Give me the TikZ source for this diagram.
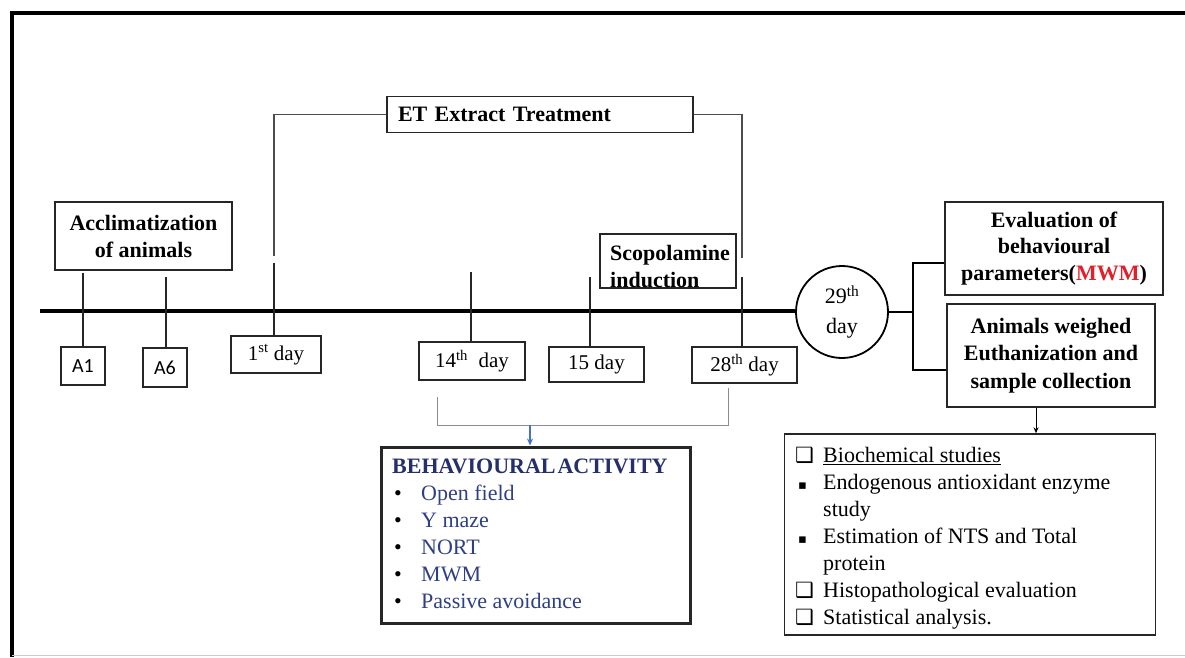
\documentclass[tikz,border=0pt]{standalone}
\usepackage{fontspec}
\usepackage{array}
\setmainfont{Liberation Serif}
\newfontfamily\calib{Carlito}
\newfontfamily\djv{DejaVu Sans}
\usetikzlibrary{arrows.meta}
\definecolor{navy}{HTML}{24306C}
\definecolor{itemblue}{HTML}{2F3F84}
\definecolor{mwmred}{HTML}{E0202A}
\definecolor{arrowblue}{HTML}{4472C4}
\tikzset{
  box/.style={draw=black!85, line width=1.6pt, inner sep=0pt, font=\fontsize{22}{27}\selectfont},
  daybox/.style={box, line width=1.8pt, font=\fontsize{21}{25}\selectfont},
  tick/.style={line width=2pt, black!85},
  bracket/.style={line width=1.3pt, black!70},
  thinbracket/.style={line width=0.9pt, black!45},
  lbl/.style={inner sep=0pt, font=\fontsize{22}{27}\selectfont}
}
\begin{document}
\begin{tikzpicture}[x=1pt,y=-1pt]
\useasboundingbox (0,0) rectangle (1185,657);
% frame
\draw[line width=4pt] (12,657) -- (12,13) -- (1185,13);
\draw[line width=1.2pt, black!20] (12,655.5) -- (1185,655.5);

% top boxes
\node[box, minimum width=177pt, minimum height=68pt, align=center, font=\bfseries\fontsize{22}{27}\selectfont] (accl) at (143.5,236) {Acclimatization\\of animals};
\node[box, minimum width=306pt, minimum height=36pt, text width=284pt, inner xsep=11pt, align=left, font=\bfseries\fontsize{22}{27}\selectfont] (et) at (540,114.5) {ET Extract Treatment};
\node[box, minimum width=136pt, minimum height=54pt] (scop) at (668,261) {};
\node[lbl, anchor=base west, align=left, font=\bfseries\fontsize{22}{27}\selectfont] (scoptxt) at (610,287) {Scopolamine\\induction};

% circle
\node[draw, circle, line width=1.8pt, minimum size=92pt, inner sep=0pt, align=center, font=\fontsize{22}{30}\selectfont] (c29) at (842,312) {29\textsuperscript{th}\\day};

% timeline
\coordinate (tl0) at (40,311);
\draw[line width=4.5pt] (tl0) -- (c29.west |- tl0);

% day boxes
\node[daybox, minimum width=44pt, minimum height=38pt, font=\calib\fontsize{20}{24}\selectfont] (a1) at (83,366) {A1};
\node[daybox, minimum width=44pt, minimum height=39pt, font=\calib\fontsize{20}{24}\selectfont] (a6) at (165,367.5) {A6};
\node[daybox, minimum width=90pt, minimum height=37pt] (d1) at (276,354.5) {1\textsuperscript{st} day};
\node[daybox, minimum width=106pt, minimum height=38pt] (d14) at (472,361) {14\textsuperscript{th}\ \ day};
\node[daybox, minimum width=95pt, minimum height=35pt] (d15) at (596.5,364.5) {15 day};
\node[daybox, minimum width=105pt, minimum height=36pt] (d28) at (744.5,365) {28\textsuperscript{th} day};

% ticks
\coordinate (ta1) at (83,273);
\coordinate (ta6) at (166,277);
\coordinate (td1) at (274,263);
\coordinate (td14) at (471,272);
\coordinate (td15) at (590,277);
\coordinate (td28) at (742,277);
\draw[tick] (ta1) -- (ta1 |- a1.north);
\draw[tick] (ta6) -- (ta6 |- a6.north);
\draw[tick] (td1) -- (td1 |- d1.north);
\draw[tick] (td14) -- (td14 |- d14.north);
\draw[tick] (td15) -- (td15 |- d15.north);
\draw[tick] (td28) -- (td28 |- d28.north);

% ET bracket
\coordinate (etl) at (274,256);
\coordinate (etr) at (742,258);
\draw[bracket] (et.west) -- (et.west -| etl) -- (etl);
\draw[bracket] (et.east) -- (et.east -| etr) -- (etr);

% right side
\node[box, minimum width=218pt, minimum height=93pt, align=center, font=\bfseries\fontsize{22}{26.5}\selectfont] (eval) at (1054,248.5) {Evaluation of\\behavioural\\parameters(\textcolor{mwmred}{MWM})};
\node[box, minimum width=208.5pt, minimum height=103pt, align=center, font=\bfseries\fontsize{22}{27.5}\selectfont] (anim) at (1051,355.5) {Animals weighed\\Euthanization and\\sample collection};
\coordinate (jt) at (913,263);
\coordinate (jb) at (913,370);
\draw[line width=2.2pt] (c29.east) -- (c29.east -| jt);
\draw[line width=2.2pt] (jt -| eval.west) -- (jt) -- (jb) -- (jb -| anim.west);

% study box
\node[box, line width=1.4pt, minimum width=371pt, minimum height=201pt] (study) at (970,534.5) {};
\node[lbl, anchor=north west] (studytxt) at (795,443) {%
\begin{tabular}{@{}>{\raggedright\arraybackslash}p{28pt}@{}>{\raggedright\arraybackslash}p{310pt}@{}}
{\djv\fontsize{21}{27}\selectfont ❑} & \underline{Biochemical studies}\\
\hspace{3pt}{\djv\fontsize{13}{27}\selectfont ▪} & Endogenous antioxidant enzyme study\\
\hspace{3pt}{\djv\fontsize{13}{27}\selectfont ▪} & Estimation of NTS and Total protein\\
{\djv\fontsize{21}{27}\selectfont ❑} & Histopathological evaluation\\
{\djv\fontsize{21}{27}\selectfont ❑} & Statistical analysis.
\end{tabular}};
\coordinate (arx) at (1036,0);
\draw[line width=1pt, -{Stealth[length=6pt,width=5pt]}] (anim.south -| arx) -- (study.north -| arx);

% behavioural box
\node[box, line width=3pt, minimum width=308.5pt, minimum height=176pt] (behav) at (536,535) {};
\node[lbl, anchor=north west] (behavtxt) at (392,454) {%
\begin{tabular}{@{}p{29pt}@{}l@{}}
\multicolumn{2}{@{}l@{}}{\bfseries\color{navy}BEHAVIOURAL\hspace{2pt}ACTIVITY}\\
\hspace{2pt}\textbullet & \color{itemblue}Open field\\
\hspace{2pt}\textbullet & \color{itemblue}Y maze\\
\hspace{2pt}\textbullet & \color{itemblue}NORT\\
\hspace{2pt}\textbullet & \color{itemblue}MWM\\
\hspace{2pt}\textbullet & \color{itemblue}Passive avoidance
\end{tabular}};

% bracket below days
\coordinate (bl) at (437,397);
\coordinate (br) at (728.5,388);
\coordinate (by) at (0,425);
\coordinate (bax) at (530,0);
\draw[thinbracket] (bl) -- (bl |- by) -- (br |- by) -- (br);
\draw[arrowblue, line width=1.2pt, -{Stealth[length=7pt,width=6pt]}] (bax |- by) -- (bax |- behav.north);
\end{tikzpicture}
\end{document}
